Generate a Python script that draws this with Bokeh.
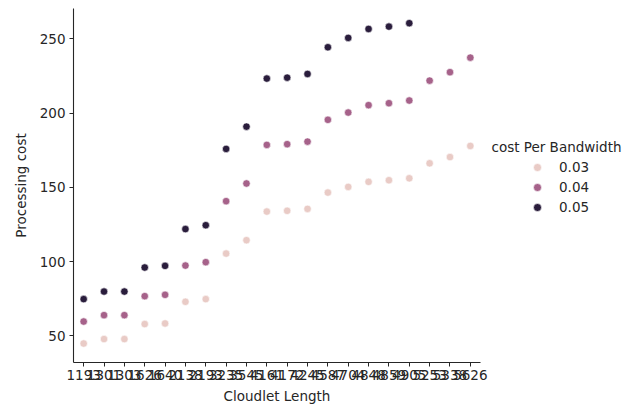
from bokeh.plotting import figure
from bokeh.models import FactorRange, Range1d, FixedTicker, Legend, LegendItem, Label
from bokeh.layouts import row
from bokeh.embed import file_html
from bokeh.resources import INLINE

cloudlet_length = ["1193", "1301", "1303", "1626", "1640", "2138", "2193", "3235", "3545", "4161",
                   "4172", "4245", "4587", "4704", "4848", "4859", "4905", "5253", "5338", "5626"]
cost_003 = [44.8, 47.8, 47.8, 57.9, 58.3, 72.9, 74.7, 105.4, 114.4, 133.7,
            134.2, 135.5, 146.5, 150.3, 153.7, 154.8, 156.1, 166.2, 170.4, 177.9]
cost_004 = [59.6, 63.9, 63.9, 76.7, 77.6, 97.3, 99.6, 140.7, 152.6, 178.6,
            179.1, 180.8, 195.5, 200.4, 205.4, 206.7, 208.5, 221.9, 227.6, 237.4]
cost_005 = [74.7, 79.8, 79.8, 96.0, 97.1, 121.9, 124.5, 175.9, 190.9, 223.3,
            223.9, 226.4, 244.4, 250.7, 256.7, 258.3, 260.6]
bandwidth_levels = ["0.03", "0.04", "0.05"]
y_ticks = [50, 100, 150, 200, 250]

colors = ["#e9cbc6", "#a6628a", "#2a1d3c"]
FONT = "DejaVu Sans"
TXT = "#262626"
FS = "13.5px"

p = figure(width=490, height=410,
           x_range=FactorRange(factors=cloudlet_length, range_padding=0),
           y_range=Range1d(32, 270.5),
           output_backend="svg", toolbar_location=None,
           min_border_left=73, min_border_right=10, min_border_top=8, min_border_bottom=48)
p.outline_line_color = None
p.grid.visible = False
p.background_fill_color = "white"
p.border_fill_color = "white"

series = [cost_003, cost_004, cost_005]
for vals, col in zip(series, colors):
    p.scatter(x=cloudlet_length[:len(vals)], y=vals, size=7.5, fill_color=col,
              line_color="white", line_width=0.6)

for ax in (p.xaxis[0], p.yaxis[0]):
    ax.axis_line_color = "#262626"
    ax.axis_line_width = 1.1
    ax.major_tick_line_color = "#262626"
    ax.major_tick_in = 0
    ax.major_tick_out = 4
    ax.minor_tick_line_color = None
    ax.major_label_text_font = FONT
    ax.major_label_text_font_size = FS
    ax.major_label_text_color = TXT
    ax.axis_label_text_font = FONT
    ax.axis_label_text_font_size = FS
    ax.axis_label_text_font_style = "normal"
    ax.axis_label_text_color = TXT

p.yaxis.ticker = FixedTicker(ticks=y_ticks)
p.yaxis.axis_label = "Processing cost"
p.xaxis.axis_label = "Cloudlet Length"
p.xaxis.major_label_standoff = 3
p.yaxis.major_label_standoff = 4
p.xaxis.axis_label_standoff = 5
p.yaxis.axis_label_standoff = 8

# legend panel (frame is aligned with the main plot frame: pixel rows 8..362)
q = figure(width=147, height=410, x_range=Range1d(0, 147), y_range=Range1d(48, 402),
           output_backend="svg", toolbar_location=None,
           x_axis_location=None, y_axis_location=None,
           min_border_left=0, min_border_right=0, min_border_top=8, min_border_bottom=48)
q.outline_line_color = None
q.grid.visible = False
q.border_fill_color = "white"
q.background_fill_color = "white"

legend_renderers = []
for col in colors:
    # off-canvas proxy glyphs, used only to draw the legend swatches
    legend_renderers.append(q.scatter(x=[-1000], y=[-1000], size=7.5, fill_color=col,
                                      line_color="white", line_width=0.6))

legend = Legend(items=[LegendItem(label=lab, renderers=[r]) for lab, r in zip(bandwidth_levels, legend_renderers)],
                location=(37, 145), border_line_color=None, background_fill_alpha=0,
                label_text_font=FONT, label_text_font_size=FS, label_text_color=TXT,
                glyph_width=20, glyph_height=20, label_height=20, spacing=0, padding=0,
                margin=0, label_standoff=12)
q.add_layout(legend, "center")

title = Label(x=66, y=264, text="cost Per Bandwidth", text_font=FONT,
              text_font_size=FS, text_color=TXT, text_baseline="middle", text_align="center")
q.add_layout(title)

layout = row(p, q, spacing=0)
open("out.html", "w").write(file_html(layout, INLINE))
